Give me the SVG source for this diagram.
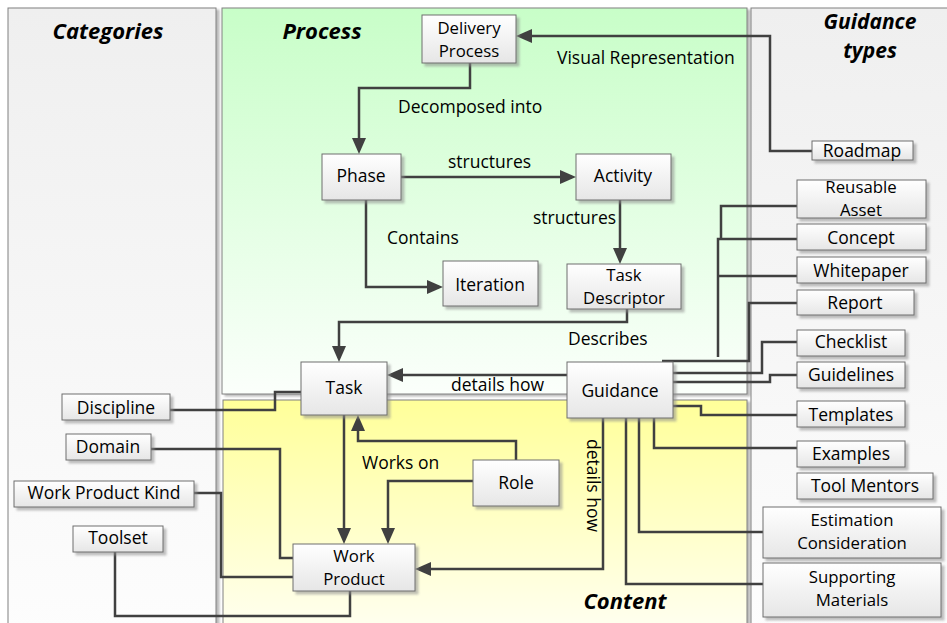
<svg xmlns="http://www.w3.org/2000/svg" width="947" height="623" viewBox="0 0 947 623">
  <style>
    .panel { stroke: #808080; stroke-width: 1; }
    .title { font-family: "Open Sans", "Liberation Sans", sans-serif; font-size: 22px; font-weight: bold; font-style: italic; fill: #000; text-anchor: middle; }
    .title2 { font-family: "Open Sans", "Liberation Sans", sans-serif; font-size: 21px; font-weight: bold; font-style: italic; fill: #000; text-anchor: middle; }
    .box { fill: url(#boxFill); stroke: #6e6e6e; stroke-width: 1; filter: url(#shadow); }
    .txt { font-family: "Open Sans", "Liberation Sans", sans-serif; font-size: 17.5px; fill: #000; text-anchor: middle; }
    .txt2 { font-family: "Open Sans", "Liberation Sans", sans-serif; font-size: 16.8px; fill: #000; text-anchor: middle; }
    .lbl { font-family: "Open Sans", "Liberation Sans", sans-serif; font-size: 17.5px; fill: #000; }
    .wire { fill: none; stroke: #404040; stroke-width: 2.5; }
    .arrow { marker-end: url(#head); }
  </style>
  <defs>
    <linearGradient id="boxFill" x1="0" y1="0" x2="0" y2="1">
      <stop offset="0" stop-color="#ffffff"/>
      <stop offset="1" stop-color="#e6e6e6"/>
    </linearGradient>
    <linearGradient id="greyPanel" x1="0" y1="0" x2="0" y2="1">
      <stop offset="0" stop-color="#efefef"/>
      <stop offset="1" stop-color="#fdfdfd"/>
    </linearGradient>
    <linearGradient id="greenPanel" x1="0" y1="0" x2="0" y2="1">
      <stop offset="0" stop-color="#c8fec8"/>
      <stop offset="1" stop-color="#fbfffb"/>
    </linearGradient>
    <linearGradient id="yellowPanel" x1="0" y1="0" x2="0" y2="1">
      <stop offset="0" stop-color="#ffff99"/>
      <stop offset="1" stop-color="#fffff4"/>
    </linearGradient>
    <filter id="shadow" x="-10%" y="-10%" width="130%" height="140%">
      <feDropShadow dx="3" dy="3" stdDeviation="1" flood-color="#8c8c8c" flood-opacity="0.55"/>
    </filter>
    <filter id="panelShadow" x="-5%" y="-5%" width="110%" height="110%">
      <feDropShadow dx="3" dy="2" stdDeviation="1" flood-color="#8c8c8c" flood-opacity="0.6"/>
    </filter>
    <marker id="head" viewBox="0 0 16 14" refX="12" refY="7" markerWidth="16" markerHeight="14" markerUnits="userSpaceOnUse" orient="auto">
      <path d="M0,0 L16,7 L0,14 Z" fill="#404040"/>
    </marker>
  </defs>

  <rect width="947" height="623" fill="#ffffff"/>

  <!-- swimlane panels -->
  <g id="panel-categories">
    <rect class="panel" x="8" y="8" width="208" height="630" fill="url(#greyPanel)" filter="url(#panelShadow)"/>
    <text class="title" x="108" y="39">Categories</text>
  </g>
  <g id="panel-process">
    <rect class="panel" x="222" y="8" width="525" height="386" fill="url(#greenPanel)" filter="url(#panelShadow)"/>
    <text class="title" x="322" y="39">Process</text>
  </g>
  <g id="panel-content">
    <rect class="panel" x="223" y="400" width="524" height="240" fill="url(#yellowPanel)" filter="url(#panelShadow)"/>
    <text class="title" x="625" y="609">Content</text>
  </g>
  <g id="panel-guidance-types">
    <rect class="panel" x="751" y="8" width="210" height="630" fill="url(#greyPanel)"/>
    <text class="title2" x="870" y="29">Guidance</text>
    <text class="title2" x="870" y="58">types</text>
  </g>

  <!-- connectors -->
  <g id="connectors">
    <path class="wire arrow" d="M812,151 H770 V36 H520"/>
    <path class="wire arrow" d="M470,63 V88 H359 V150"/>
    <path class="wire arrow" d="M401,177 H572"/>
    <path class="wire arrow" d="M620,200 V260"/>
    <path class="wire arrow" d="M366,200 V287 H439"/>
    <path class="wire arrow" d="M627,309 V322 H339 V358"/>
    <path class="wire arrow" d="M567,375 H391"/>
    <path class="wire arrow" d="M344,415 V540"/>
    <path class="wire arrow" d="M516,460 V441 H358 V419"/>
    <path class="wire arrow" d="M473,481 H388 V540"/>
    <path class="wire arrow" d="M603,418 V569 H419"/>

    <path class="wire" d="M170,410 H275 V392 H301"/>
    <path class="wire" d="M151,449 H280 V558 H293"/>
    <path class="wire" d="M194,493 H221 V577 H293"/>
    <path class="wire" d="M115,552 V616 H350 V591"/>

    <path class="wire" d="M797,206 H721 V239"/>
    <path class="wire" d="M797,239 H718 V357"/>
    <path class="wire" d="M797,276 H718"/>
    <path class="wire" d="M797,303 H749 V361 H662"/>
    <path class="wire" d="M797,342 H762 V373 H673"/>
    <path class="wire" d="M797,375 H770 V382 H673"/>
    <path class="wire" d="M673,406 H701 V415 H797"/>
    <path class="wire" d="M654,418 V448 H797"/>
    <path class="wire" d="M639,418 V532 H763"/>
    <path class="wire" d="M626,418 V584 H763"/>

    <text class="lbl" x="557" y="64">Visual Representation</text>
    <text class="lbl" x="398" y="113">Decomposed into</text>
    <text class="lbl" x="448" y="168">structures</text>
    <text class="lbl" x="533" y="224">structures</text>
    <text class="lbl" x="387" y="244">Contains</text>
    <text class="lbl" x="568" y="345">Describes</text>
    <text class="lbl" x="451" y="391">details how</text>
    <text class="lbl" x="362" y="469">Works on</text>
    <text class="lbl" transform="translate(587,439) rotate(90)">details how</text>
  </g>

  <!-- process elements -->
  <g id="delivery-process">
    <rect class="box" x="422" y="15" width="94" height="48"/>
    <text class="txt2" x="469" y="34">Delivery</text>
    <text class="txt2" x="469" y="57">Process</text>
  </g>
  <g id="phase">
    <rect class="box" x="322" y="154" width="79" height="46"/>
    <text class="txt" x="361" y="182">Phase</text>
  </g>
  <g id="activity">
    <rect class="box" x="576" y="154" width="95" height="46"/>
    <text class="txt" x="623" y="182">Activity</text>
  </g>
  <g id="iteration">
    <rect class="box" x="443" y="261" width="95" height="45"/>
    <text class="txt" x="490" y="291">Iteration</text>
  </g>
  <g id="task-descriptor">
    <rect class="box" x="567" y="264" width="114" height="45"/>
    <text class="txt2" x="624" y="281">Task</text>
    <text class="txt2" x="624" y="304">Descriptor</text>
  </g>

  <!-- content elements -->
  <g id="task">
    <rect class="box" x="301" y="362" width="86" height="53"/>
    <text class="txt" x="344" y="394">Task</text>
  </g>
  <g id="guidance">
    <rect class="box" x="567" y="362" width="106" height="56"/>
    <text class="txt" x="620" y="397">Guidance</text>
  </g>
  <g id="role">
    <rect class="box" x="473" y="460" width="86" height="46"/>
    <text class="txt" x="516" y="489">Role</text>
  </g>
  <g id="work-product">
    <rect class="box" x="293" y="544" width="122" height="47"/>
    <text class="txt2" x="354" y="562">Work</text>
    <text class="txt2" x="354" y="585">Product</text>
  </g>

  <!-- categories -->
  <g id="discipline">
    <rect class="box" x="62" y="394" width="108" height="26"/>
    <text class="txt" x="116" y="414">Discipline</text>
  </g>
  <g id="domain">
    <rect class="box" x="66" y="434" width="85" height="26"/>
    <text class="txt" x="108" y="453">Domain</text>
  </g>
  <g id="work-product-kind">
    <rect class="box" x="14" y="481" width="180" height="26"/>
    <text class="txt" x="104" y="499">Work Product Kind</text>
  </g>
  <g id="toolset">
    <rect class="box" x="73" y="526" width="90" height="26"/>
    <text class="txt" x="118" y="544">Toolset</text>
  </g>

  <!-- guidance types -->
  <g id="roadmap">
    <rect class="box" x="812" y="141" width="101" height="19"/>
    <text class="txt" x="862" y="157">Roadmap</text>
  </g>
  <g id="reusable-asset">
    <rect class="box" x="797" y="180" width="129" height="38"/>
    <text class="txt2" x="861" y="193">Reusable</text>
    <text class="txt2" x="861" y="216">Asset</text>
  </g>
  <g id="concept">
    <rect class="box" x="797" y="224" width="129" height="26"/>
    <text class="txt" x="861" y="244">Concept</text>
  </g>
  <g id="whitepaper">
    <rect class="box" x="797" y="257" width="129" height="26"/>
    <text class="txt" x="861" y="277">Whitepaper</text>
  </g>
  <g id="report">
    <rect class="box" x="797" y="290" width="117" height="25"/>
    <text class="txt" x="855" y="309">Report</text>
  </g>
  <g id="checklist">
    <rect class="box" x="797" y="330" width="108" height="26"/>
    <text class="txt" x="851" y="348">Checklist</text>
  </g>
  <g id="guidelines">
    <rect class="box" x="797" y="362" width="108" height="26"/>
    <text class="txt" x="851" y="381">Guidelines</text>
  </g>
  <g id="templates">
    <rect class="box" x="797" y="401" width="108" height="26"/>
    <text class="txt" x="851" y="421">Templates</text>
  </g>
  <g id="examples">
    <rect class="box" x="797" y="441" width="108" height="26"/>
    <text class="txt" x="851" y="460">Examples</text>
  </g>
  <g id="tool-mentors">
    <rect class="box" x="797" y="473" width="136" height="26"/>
    <text class="txt" x="865" y="492">Tool Mentors</text>
  </g>
  <g id="estimation-consideration">
    <rect class="box" x="763" y="507" width="178" height="51"/>
    <text class="txt2" x="852" y="526">Estimation</text>
    <text class="txt2" x="852" y="549">Consideration</text>
  </g>
  <g id="supporting-materials">
    <rect class="box" x="763" y="563" width="178" height="54"/>
    <text class="txt2" x="852" y="583">Supporting</text>
    <text class="txt2" x="852" y="606">Materials</text>
  </g>
</svg>
